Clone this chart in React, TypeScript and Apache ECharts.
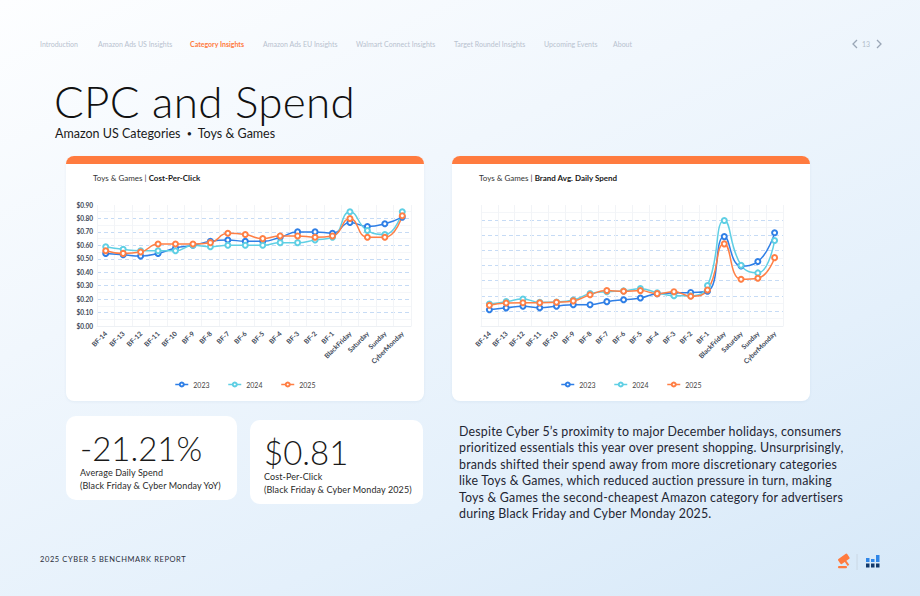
import React, { useEffect, useRef } from "react";
import * as echarts from "echarts";

const categories = [
  "BF-14", "BF-13", "BF-12", "BF-11", "BF-10", "BF-9", "BF-8", "BF-7", "BF-6",
  "BF-5", "BF-4", "BF-3", "BF-2", "BF-1", "BlackFriday", "Saturday", "Sunday", "CyberMonday",
];
const seriesNames = ["2023", "2024", "2025"];
const seriesColors = ["#2f7fe6", "#5fcfe4", "#ff7f45"];

const cpc2023 = [0.54, 0.53, 0.52, 0.54, 0.58, 0.6, 0.63, 0.64, 0.63, 0.63, 0.66, 0.7, 0.7, 0.69, 0.77, 0.74, 0.76, 0.81];
const cpc2024 = [0.59, 0.57, 0.56, 0.56, 0.56, 0.6, 0.59, 0.6, 0.6, 0.6, 0.62, 0.62, 0.64, 0.66, 0.85, 0.71, 0.68, 0.85];
const cpc2025 = [0.56, 0.54, 0.55, 0.61, 0.61, 0.61, 0.62, 0.69, 0.68, 0.65, 0.67, 0.67, 0.66, 0.67, 0.8, 0.66, 0.66, 0.82];

const spend2023 = [1.08, 1.2, 1.31, 1.21, 1.31, 1.41, 1.41, 1.61, 1.74, 1.85, 2.14, 2.18, 2.22, 2.3, 5.91, 3.97, 4.26, 6.16];
const spend2024 = [1.46, 1.61, 1.79, 1.57, 1.59, 1.72, 2.14, 2.27, 2.32, 2.47, 2.2, 2.0, 2.0, 2.67, 6.97, 4.02, 3.51, 5.65];
const spend2025 = [1.37, 1.52, 1.54, 1.54, 1.57, 1.66, 2.07, 2.34, 2.3, 2.34, 2.14, 2.27, 1.97, 2.38, 5.43, 3.09, 3.16, 4.52];

const navItems = [
  "Introduction", "Amazon Ads US Insights", "Category Insights", "Amazon Ads EU Insights",
  "Walmart Connect Insights", "Target Roundel Insights", "Upcoming Events", "About",
];
const navX = [40, 98, 190, 263, 356, 454, 544, 613];

const paragraph = [
  "Despite Cyber 5\u2019s proximity to major December holidays, consumers",
  "prioritized essentials this year over present shopping. Unsurprisingly,",
  "brands shifted their spend away from more discretionary categories",
  "like Toys & Games, which reduced auction pressure in turn, making",
  "Toys & Games the second-cheapest Amazon category for advertisers",
  "during Black Friday and Cyber Monday 2025.",
];

const FONT = "Lato, 'Noto Sans', sans-serif";

function buildOption(cfg: {
  title: string;
  data: number[][];
  max: number;
  interval: number;
  showY: boolean;
  gridLeft: number;
  gridRight: number;
}) {
  return {
    animation: false,
    title: {
      text: "Toys & Games | {b|" + cfg.title + "}",
      left: 22,
      top: 12,
      textStyle: {
        fontFamily: FONT,
        fontSize: 8,
        fontWeight: "normal",
        color: "#333",
        rich: { b: { fontFamily: FONT, fontSize: 8, fontWeight: "bold", color: "#1a1a1a" } },
      },
    },
    legend: {
      bottom: 8,
      left: "center",
      itemWidth: 13,
      itemHeight: 5,
      itemGap: 18,
      itemStyle: { borderWidth: 1 },
      lineStyle: { width: 1.5 },
      textStyle: { fontFamily: FONT, fontSize: 7, color: "#444" },
      data: seriesNames,
    },
    grid: { left: cfg.gridLeft, right: cfg.gridRight, top: 48, bottom: 75, containLabel: false },
    xAxis: {
      type: "category",
      data: categories,
      boundaryGap: true,
      axisLine: { show: true, lineStyle: { color: "#edf0f4" } },
      axisTick: { show: false },
      splitLine: { show: true, lineStyle: { color: "#f2f4f7", width: 1 } },
      axisLabel: {
        rotate: 45,
        interval: 0,
        fontFamily: FONT,
        fontSize: 6.8,
        fontWeight: "bold",
        color: "#3d4858",
        margin: 6,
      },
    },
    yAxis: {
      type: "value",
      min: 0,
      max: cfg.max,
      interval: cfg.interval,
      axisLine: { show: false },
      axisTick: { show: false },
      axisLabel: {
        show: cfg.showY,
        fontFamily: FONT,
        fontSize: 6.5,
        fontWeight: "bold",
        color: "#3d4858",
        margin: 4,
        formatter: (v: number) => "$" + v.toFixed(2),
      },
      splitLine: {
        show: true,
        showMinLine: false,
        showMaxLine: false,
        lineStyle: { color: "#c6dbf5", type: [4, 3], width: 1 },
      },
      minorTick: { show: false, splitNumber: 2 },
      minorSplitLine: { show: true, lineStyle: { color: "#f4f6f9", width: 1 } },
    },
    series: cfg.data.map((d, i) => ({
      name: seriesNames[i],
      type: "line",
      data: d,
      smooth: true,
      symbol: "emptyCircle",
      symbolSize: 5,
      lineStyle: { width: 1.5, color: seriesColors[i] },
      itemStyle: { color: seriesColors[i], borderWidth: 1.3, borderColor: seriesColors[i] },
      emphasis: { disabled: true },
    })),
  };
}

function ChartCard(props: { left: number; option: any }) {
  const ref = useRef<HTMLDivElement>(null);
  useEffect(() => {
    if (!ref.current) return;
    const chart = echarts.init(ref.current, undefined, { renderer: "svg" });
    chart.setOption(props.option);
    return () => chart.dispose();
  }, []);
  return (
    <div
      style={{
        position: "absolute",
        left: props.left,
        top: 156,
        width: 358,
        height: 245,
        background: "#fff",
        borderRadius: 8,
        overflow: "hidden",
        boxShadow: "0 1px 3px rgba(40,80,130,0.06)",
      }}
    >
      <div style={{ position: "absolute", left: 0, top: 0, width: 358, height: 8, background: "#ff7b3f" }} />
      <div ref={ref} style={{ position: "absolute", left: 0, top: 1, width: 358, height: 244 }} />
    </div>
  );
}

function Kpi(props: { left: number; top: number; width: number; value: string; l1: string; l2: string }) {
  return (
    <div
      style={{
        position: "absolute",
        left: props.left,
        top: props.top,
        width: props.width,
        height: 84,
        background: "#fff",
        borderRadius: 10,
        fontFamily: FONT,
      }}
    >
      <div style={{ position: "absolute", left: 14, top: 16, fontSize: 33, fontWeight: 300, lineHeight: "33px", color: "#1a1a1a", whiteSpace: "nowrap" }}>
        {props.value}
      </div>
      <div style={{ position: "absolute", left: 14, top: 50, fontSize: 9, lineHeight: "13px", color: "#2a2a2a", whiteSpace: "nowrap", letterSpacing: 0.1 }}>
        {props.l1}
        <br />
        {props.l2}
      </div>
    </div>
  );
}

export default function App() {
  const leftOpt = buildOption({
    title: "Cost-Per-Click",
    data: [cpc2023, cpc2024, cpc2025],
    max: 0.9,
    interval: 0.1,
    showY: true,
    gridLeft: 31,
    gridRight: 13,
  });
  const rightOpt = buildOption({
    title: "Brand Avg. Daily Spend",
    data: [spend2023, spend2024, spend2025],
    max: 8,
    interval: 1,
    showY: false,
    gridLeft: 29,
    gridRight: 27,
  });
  return (
    <div
      style={{
        position: "fixed",
        left: 0,
        top: 0,
        width: 920,
        height: 596,
        overflow: "hidden",
        background: "linear-gradient(155deg, #fdfeff 0%, #f1f7fd 35%, #e4f0fb 70%, #d6e8f8 100%)",
        fontFamily: FONT,
      }}
    >
      {navItems.map((t, i) => (
        <div
          key={t}
          style={{
            position: "absolute",
            left: navX[i],
            top: 39,
            fontSize: 7,
            lineHeight: "10px",
            whiteSpace: "nowrap",
            color: i === 2 ? "#ff7b3f" : "#b8c2cf",
            fontWeight: i === 2 ? 700 : 400,
          }}
        >
          {t}
        </div>
      ))}
      <svg style={{ position: "absolute", left: 850, top: 38 }} width="34" height="12">
        <polyline points="7,2 3,6 7,10" fill="none" stroke="#9aa6b6" strokeWidth="1.3" />
        <polyline points="27,2 31,6 27,10" fill="none" stroke="#9aa6b6" strokeWidth="1.3" />
      </svg>
      <div style={{ position: "absolute", left: 862, top: 39, fontSize: 7, lineHeight: "10px", color: "#b3bdca" }}>13</div>

      <div style={{ position: "absolute", left: 54, top: 79, fontSize: 44, lineHeight: "44px", color: "#111", whiteSpace: "nowrap", fontWeight: 300, letterSpacing: 0.3 }}>
        CPC and Spend
      </div>
      <div style={{ position: "absolute", left: 55, top: 126, fontSize: 12.5, lineHeight: "16px", color: "#1a1a1a", whiteSpace: "nowrap" }}>
        Amazon US Categories <span style={{ fontSize: 9, margin: "0 3px", position: "relative", top: -1 }}>{"\u2022"}</span> Toys & Games
      </div>

      <ChartCard left={66} option={leftOpt} />
      <ChartCard left={452} option={rightOpt} />

      <Kpi left={66} top={416} width={171} value="-21.21%" l1="Average Daily Spend" l2="(Black Friday & Cyber Monday YoY)" />
      <Kpi left={250} top={420} width={173} value="$0.81" l1="Cost-Per-Click" l2="(Black Friday & Cyber Monday 2025)" />

      <div style={{ position: "absolute", left: 459, top: 424, fontSize: 12.4, lineHeight: "16.4px", color: "#1f2633", whiteSpace: "nowrap", letterSpacing: 0.2 }}>
        {paragraph.map((l, i) => (
          <div key={i}>{l}</div>
        ))}
      </div>

      <div style={{ position: "absolute", left: 40, top: 555, fontSize: 7.5, lineHeight: "10px", color: "#2a2f3a", whiteSpace: "nowrap", letterSpacing: 0.6 }}>
        2025 CYBER 5 BENCHMARK REPORT
      </div>

      <svg style={{ position: "absolute", left: 834, top: 552 }} width="50" height="20">
        <g transform="rotate(-35 10 8)">
          <rect x="5" y="4" width="11" height="6" rx="1" fill="#ff7b3f" />
          <rect x="9.5" y="9" width="2" height="6" fill="#ff7b3f" />
        </g>
        <rect x="4" y="14" width="9" height="2.2" rx="1" fill="#ff7b3f" />
        <line x1="23" y1="2" x2="23" y2="18" stroke="#c6d3e0" strokeWidth="0.8" />
        <rect x="32" y="6" width="3.5" height="4" fill="#2f86e8" />
        <rect x="37" y="7" width="3.5" height="3" fill="#2f86e8" />
        <rect x="42" y="3" width="3.5" height="7" fill="#2f86e8" />
        <rect x="32" y="11.5" width="3.5" height="4" fill="#12396b" />
        <rect x="37" y="11.5" width="3.5" height="4" fill="#12396b" />
        <rect x="42" y="11.5" width="3.5" height="4" fill="#12396b" />
      </svg>
    </div>
  );
}
